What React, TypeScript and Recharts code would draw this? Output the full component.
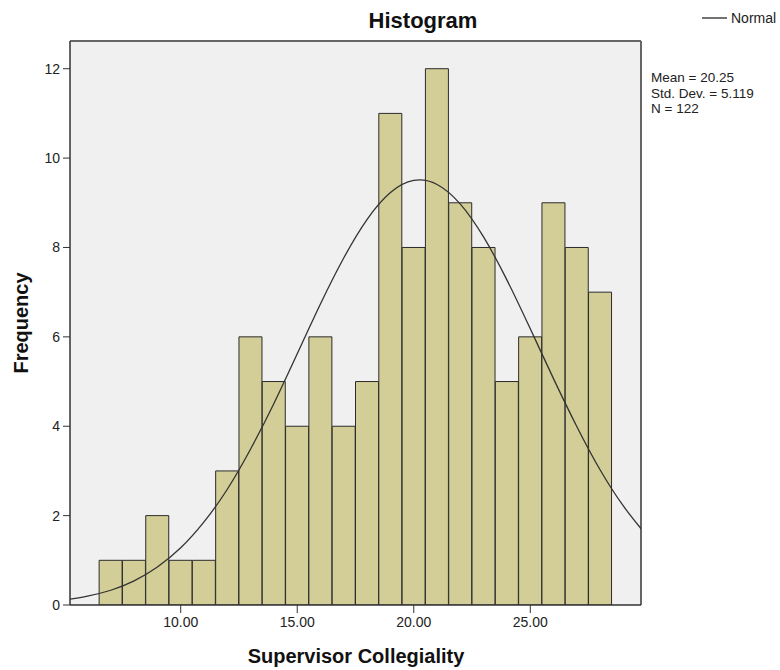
import { ComposedChart, Bar, Line, XAxis, YAxis, CartesianGrid, ReferenceLine } from "recharts";

// histogram bins (width 1), centres and counts
const binCenters = [7, 8, 9, 10, 11, 12, 13, 14, 15, 16, 17, 18, 19, 20, 21, 22, 23, 24, 25, 26, 27, 28];
const frequencies = [1, 1, 2, 1, 1, 3, 6, 5, 4, 6, 4, 5, 11, 8, 12, 9, 8, 5, 6, 9, 8, 7];

// normal curve
const curveX = [5, 6, 7, 8, 9, 10, 11, 12, 13, 14, 15, 16, 17, 18, 19, 20, 21, 22, 23, 24, 25, 26, 27, 28, 29, 30];
const curveY = [0.11, 0.2, 0.33, 0.54, 0.85, 1.28, 1.86, 2.59, 3.49, 4.51, 5.62, 6.74, 7.77, 8.63, 9.23, 9.5, 9.41, 8.97, 8.23, 7.27, 6.18, 5.06, 3.99, 3.02, 2.21, 1.55];

const xTicks = [10, 15, 20, 25];
const yTicks = [0, 2, 4, 6, 8, 10, 12];
const xDomain = [5.25, 29.75];
const yDomain = [0, 12.62];

const statLines = ["Mean = 20.25", "Std. Dev. = 5.119", "N = 122"];

const data = curveX.map((x, i) => {
  const b = binCenters.indexOf(x);
  return { x, freq: b >= 0 ? frequencies[b] : null, normal: curveY[i] };
});

const font = "'Liberation Sans', Arial, sans-serif";

export default function App() {
  return (
    <div style={{ position: "absolute", left: 0, top: 0, width: 780, height: 670, background: "#fff", fontFamily: font }}>
      <ComposedChart
        width={780}
        height={670}
        data={data}
        margin={{ top: 41, right: 139, left: 0, bottom: 0 }}
        barCategoryGap={0}
        barGap={0}
      >
        <CartesianGrid fill="#f0f0f0" horizontal={false} vertical={false} />
        <XAxis
          dataKey="x"
          type="number"
          domain={xDomain}
          allowDataOverflow
          ticks={xTicks}
          tickFormatter={(v: number) => v.toFixed(2)}
          height={65}
          tickSize={8}
          tickMargin={4}
          tick={{ fontSize: 14, fill: "#222", fontFamily: font }}
          axisLine={{ stroke: "#333", strokeWidth: 1.5 }}
          tickLine={{ stroke: "#333" }}
        />
        <YAxis
          type="number"
          domain={yDomain}
          allowDataOverflow
          ticks={yTicks}
          width={70}
          tickSize={7}
          tickMargin={3}
          tick={{ fontSize: 14, fill: "#222", fontFamily: font }}
          axisLine={{ stroke: "#333", strokeWidth: 1.5 }}
          tickLine={{ stroke: "#333" }}
        />
        <ReferenceLine y={yDomain[1]} stroke="#666" strokeWidth={2} />
        <ReferenceLine x={xDomain[1]} stroke="#666" strokeWidth={2} />
        <Bar
          dataKey="freq"
          fill="#d3ce97"
          stroke="#2b2b2b"
          strokeWidth={1}
          isAnimationActive={false}
        />
        <Line
          dataKey="normal"
          type="natural"
          stroke="#333"
          strokeWidth={1.3}
          dot={false}
          activeDot={false}
          isAnimationActive={false}
        />
      </ComposedChart>

      <svg width={780} height={670} style={{ position: "absolute", left: 0, top: 0, pointerEvents: "none" }}>
        <text x={423} y={28} textAnchor="middle" fontSize={22} fontWeight="bold" fill="#111" fontFamily={font}>
          Histogram
        </text>
        <line x1={702} x2={727} y1={18} y2={18} stroke="#444" strokeWidth={1.5} />
        <text x={731} y={23} fontSize={14} fill="#222" fontFamily={font}>
          Normal
        </text>
        {statLines.map((s, i) => (
          <text key={s} x={651} y={82 + i * 15.5} fontSize={13.5} fill="#222" fontFamily={font}>
            {s}
          </text>
        ))}
        <text x={356} y={663} textAnchor="middle" fontSize={20} fontWeight="bold" fill="#111" fontFamily={font}>
          Supervisor Collegiality
        </text>
        <text
          x={21}
          y={323}
          transform="rotate(-90 21 323)"
          textAnchor="middle"
          dominantBaseline="central"
          fontSize={20}
          fontWeight="bold"
          fill="#111"
          fontFamily={font}
        >
          Frequency
        </text>
      </svg>
    </div>
  );
}
